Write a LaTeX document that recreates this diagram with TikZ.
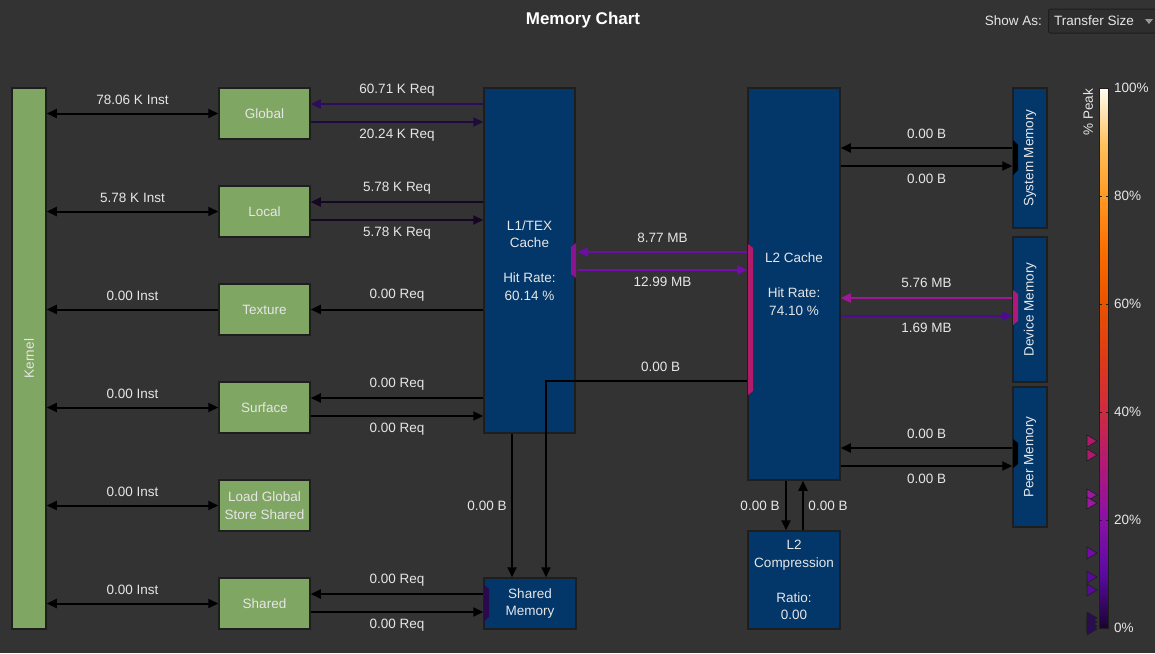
\documentclass[tikz,border=0pt]{standalone}
\usepackage{fontspec}
\setmainfont{Liberation Sans}
\usetikzlibrary{arrows.meta,calc}
\definecolor{bg}{HTML}{333333}
\definecolor{boxgreen}{HTML}{7FA662}
\definecolor{boxblue}{HTML}{03376A}
\definecolor{edge}{HTML}{1E1E1E}
\definecolor{txt}{HTML}{E6E6E6}
\definecolor{ddfill}{HTML}{2E2E2E}
\definecolor{cglobIn}{HTML}{2E0C5C}
\definecolor{cglobOut}{HTML}{1E0A3C}
\definecolor{clocal}{HTML}{150624}
\definecolor{cltwoa}{HTML}{6E0CA8}
\definecolor{cltwob}{HTML}{760BAE}
\definecolor{cdevin}{HTML}{9E1897}
\definecolor{cdevout}{HTML}{4E0A92}
\definecolor{porttwo}{HTML}{B01C6A}
\definecolor{portone}{HTML}{8C1490}
\definecolor{portdev}{HTML}{B0187A}
\definecolor{portsh}{HTML}{2A0A4C}
\definecolor{pk0}{HTML}{180430}
\definecolor{pk10}{HTML}{5A0AA0}
\definecolor{pk20}{HTML}{8A10A8}
\definecolor{pk30}{HTML}{B01878}
\definecolor{pk40}{HTML}{CF2A40}
\definecolor{pk50}{HTML}{DE3A18}
\definecolor{pk60}{HTML}{E85200}
\definecolor{pk70}{HTML}{FB6E00}
\definecolor{pk80}{HTML}{FF9A22}
\definecolor{pk90}{HTML}{FFC260}
\definecolor{pk100}{HTML}{FFFEF4}
\definecolor{tri1}{HTML}{B0186E}
\definecolor{tri2}{HTML}{9C18A0}
\definecolor{tri3}{HTML}{740AAA}
\definecolor{tri4}{HTML}{580A9C}
\definecolor{tri5}{HTML}{2C0A5A}
\pgfdeclareverticalshading{peakbar}{100bp}{color(0bp)=(pk0); color(25bp)=(pk0); color(30bp)=(pk10); color(35bp)=(pk20); color(40bp)=(pk30); color(45bp)=(pk40); color(50bp)=(pk50); color(55bp)=(pk60); color(60bp)=(pk70); color(65bp)=(pk80); color(70bp)=(pk90); color(75bp)=(pk100); color(100bp)=(pk100)}
\newcommand\lblfont{\fontsize{13.5}{17.5}\selectfont}
\tikzset{
  gbox/.style={draw=edge, line width=1.5pt, fill=boxgreen, text=txt, minimum width=91pt, minimum height=51pt, inner sep=0pt, font=\lblfont, align=center},
  bbox/.style={draw=edge, line width=1.5pt, fill=boxblue, text=txt, inner sep=0pt, font=\lblfont, align=center},
  arr/.style={line width=2pt, -{Triangle[length=10pt,width=9pt]}},
  darr/.style={line width=2pt, {Triangle[length=10pt,width=9pt]}-{Triangle[length=10pt,width=9pt]}},
  lab/.style={text=txt, font=\lblfont, inner sep=0pt},
  marker/.style={draw=edge, line width=0.6pt},
}
\begin{document}
\begin{tikzpicture}[x=1pt,y=-1pt]
\useasboundingbox (0,0) rectangle (1155,653);
\fill[bg] (0,0) rectangle (1155,653);

% header
\node[text=white, font=\bfseries\fontsize{17}{20}\selectfont] (title) at (583,20) {Memory Chart};
\node[lab, anchor=east] (showas) at (1042,21) {Show As:};
\node[draw=edge, fill=ddfill, rounded corners=2pt, line width=1pt, minimum width=114pt, minimum height=24pt, anchor=west, inner sep=0pt] (dropdown) at (1048,21) {};
\node[lab, anchor=west] (ddtext) at (1054,21) {Transfer Size};
\fill[gray!80] (1145,19) -- (1153,19) -- (1149,24) -- cycle;

% kernel and green boxes
\node[gbox, minimum width=34pt, minimum height=541pt] (kernel) at (29,358.5) {};
\node[lab, rotate=90] (kernellbl) at (kernel.center) {Kernel};
\node[gbox] (global) at (264.5,113.5) {Global};
\node[gbox] (local) at (264.5,211.5) {Local};
\node[gbox] (texture) at (264.5,309.5) {Texture};
\node[gbox] (surface) at (264.5,407.5) {Surface};
\node[gbox] (lgss) at (264.5,505.5) {Load Global\\Store Shared};
\node[gbox] (shared) at (264.5,603.5) {Shared};

% blue boxes
\node[bbox, minimum width=91pt, minimum height=345pt] (l1) at (529.5,260.5) {L1/TEX\\Cache\\[17.5pt]Hit Rate:\\60.14 \%};
\node[bbox, minimum width=92pt, minimum height=51pt] (shmem) at (530,603.5) {Shared\\Memory};
\node[bbox, minimum width=92pt, minimum height=392pt] (l2) at (794,284) {L2 Cache\\[17.5pt]Hit Rate:\\74.10 \%};
\node[bbox, minimum width=92pt, minimum height=98pt] (comp) at (794,580) {L2\\Compression\\[17.5pt]Ratio:\\0.00};
\node[bbox, minimum width=34pt, minimum height=140pt] (sysmem) at (1030,158) {};
\node[lab, rotate=90] (syslbl) at (sysmem.center) {System Memory};
\node[bbox, minimum width=34pt, minimum height=145pt] (devmem) at (1030,309.5) {};
\node[lab, rotate=90] (devlbl) at (devmem.center) {Device Memory};
\node[bbox, minimum width=34pt, minimum height=140pt] (peermem) at (1030,457) {};
\node[lab, rotate=90] (peerlbl) at (peermem.center) {Peer Memory};

% ports
\fill[portone] (571,247) -- (576,243) -- (576,278) -- (571,274) -- cycle;
\fill[porttwo] (748,244) -- (753,248) -- (753,391) -- (748,395) -- cycle;
\fill[black] (1013,140) -- (1018,145) -- (1018,170) -- (1013,175) -- cycle;
\fill[portdev] (1013,290) -- (1018,294) -- (1018,321) -- (1013,325) -- cycle;
\fill[black] (1013,439) -- (1018,443) -- (1018,464) -- (1013,468) -- cycle;
\fill[portsh] (484,585) -- (489,589) -- (489,617) -- (484,621) -- cycle;

% kernel <-> green boxes
\draw[darr] (kernel.east |- global.west) -- node[lab, yshift=14pt]{78.06 K Inst} (global.west);
\draw[darr] (kernel.east |- local.west) -- node[lab, yshift=14pt]{5.78 K Inst} (local.west);
\draw[arr] (texture.west) -- node[lab, yshift=14pt]{0.00 Inst} (kernel.east |- texture.west);
\draw[darr] (kernel.east |- surface.west) -- node[lab, yshift=14pt]{0.00 Inst} (surface.west);
\draw[darr] (kernel.east |- lgss.west) -- node[lab, yshift=14pt]{0.00 Inst} (lgss.west);
\draw[darr] (kernel.east |- shared.west) -- node[lab, yshift=14pt]{0.00 Inst} (shared.west);

% green boxes <-> L1 / shared memory
\coordinate (ga) at ($(global.east)+(0,-9.5)$);
\coordinate (gb) at ($(global.east)+(0,8.5)$);
\draw[arr, draw=cglobIn] (ga -| l1.west) -- node[lab, yshift=14pt]{60.71 K Req} (ga);
\draw[arr, draw=cglobOut] (gb) -- node[lab, yshift=-13pt]{20.24 K Req} (gb -| l1.west);
\coordinate (la) at ($(local.east)+(0,-9.5)$);
\coordinate (lb) at ($(local.east)+(0,8.5)$);
\draw[arr, draw=clocal] (la -| l1.west) -- node[lab, yshift=14pt]{5.78 K Req} (la);
\draw[arr, draw=clocal] (lb) -- node[lab, yshift=-13pt]{5.78 K Req} (lb -| l1.west);
\draw[arr] (l1.west |- texture.east) -- node[lab, yshift=14pt]{0.00 Req} (texture.east);
\coordinate (sa) at ($(surface.east)+(0,-9.5)$);
\coordinate (sb) at ($(surface.east)+(0,8.5)$);
\draw[arr] (sa -| l1.west) -- node[lab, yshift=14pt]{0.00 Req} (sa);
\draw[arr] (sb) -- node[lab, yshift=-13pt]{0.00 Req} (sb -| l1.west);
\coordinate (ha) at ($(shared.east)+(0,-9.5)$);
\coordinate (hb) at ($(shared.east)+(0,8.5)$);
\draw[arr] (ha -| shmem.west) -- node[lab, yshift=14pt]{0.00 Req} (ha);
\draw[arr] (hb) -- node[lab, yshift=-13pt]{0.00 Req} (hb -| shmem.west);

% L1 <-> L2
\coordinate (ma) at ($(l1.east)+(2,-8.5)$);
\coordinate (mb) at ($(l1.east)+(2,9.5)$);
\draw[arr, draw=cltwoa] (ma -| l2.west) -- node[lab, yshift=14pt]{8.77 MB} (ma);
\draw[arr, draw=cltwob] (mb) -- node[lab, yshift=-12pt]{12.99 MB} (mb -| l2.west);

% to shared memory
\coordinate (pa) at ($(l2.west)+(0,97)$);
\coordinate (px) at ($(shmem.north)+(16,0)$);
\draw[arr] (pa) -- node[lab, pos=0.43, yshift=14pt]{0.00 B} (pa -| px) -- (px);
\coordinate (da) at ($(l1.south)+(-17.5,0)$);
\draw[arr] (da) -- node[lab, xshift=-25pt]{0.00 B} (da |- shmem.north);

% L2 <-> compression
\coordinate (ca) at ($(l2.south)+(-8,0)$);
\coordinate (cb) at ($(comp.north)+(9,0)$);
\draw[arr] (ca) -- node[lab, xshift=-26pt]{0.00 B} (ca |- comp.north);
\draw[arr] (cb) -- node[lab, xshift=25pt]{0.00 B} (cb |- l2.south);

% L2 <-> memories
\coordinate (ya) at ($(sysmem.west)+(0,-10)$);
\coordinate (yb) at ($(sysmem.west)+(0,8)$);
\draw[arr] (ya) -- node[lab, yshift=14pt]{0.00 B} (ya -| l2.east);
\draw[arr] (yb -| l2.east) -- node[lab, yshift=-13pt]{0.00 B} (yb);
\coordinate (va) at ($(devmem.west)+(0,-11.5)$);
\coordinate (vb) at ($(devmem.west)+(0,6.5)$);
\draw[arr, draw=cdevin] (va) -- node[lab, yshift=15pt]{5.76 MB} (va -| l2.east);
\draw[arr, draw=cdevout] (vb -| l2.east) -- node[lab, yshift=-12pt]{1.69 MB} (vb);
\coordinate (ea) at ($(peermem.west)+(0,-9)$);
\coordinate (eb) at ($(peermem.west)+(0,9)$);
\draw[arr] (ea) -- node[lab, yshift=14pt]{0.00 B} (ea -| l2.east);
\draw[arr] (eb -| l2.east) -- node[lab, yshift=-13pt]{0.00 B} (eb);

% colour bar
\shade[shading=peakbar] (1099,88) rectangle (1108,628);
\draw[edge, line width=1pt] (1099,88) rectangle (1108,628);
\foreach \t in {196,304,412,520}{
  \draw[edge, line width=1pt] (1099,\t) -- (1101.5,\t) (1105.5,\t) -- (1108,\t);
}
\node[lab, anchor=west] (p100) at (1114,88) {100\%};
\node[lab, anchor=west] (p80) at (1114,196) {80\%};
\node[lab, anchor=west] (p60) at (1114,304) {60\%};
\node[lab, anchor=west] (p40) at (1114,412) {40\%};
\node[lab, anchor=west] (p20) at (1114,520) {20\%};
\node[lab, anchor=west] (p0) at (1114,628) {0\%};
\node[lab, rotate=90] (peak) at (1088,112) {\% Peak};
% markers
\foreach \m/\c in {441/tri1,455/tri1,495/tri2,503/tri2,553/tri3,577/tri4,590/tri4,618/tri5,622/tri5,626/tri5,629/tri5}{
  \filldraw[marker, fill=\c] (1087,\m-6) -- (1097,\m) -- (1087,\m+6) -- cycle;
}
\end{tikzpicture}
\end{document}
